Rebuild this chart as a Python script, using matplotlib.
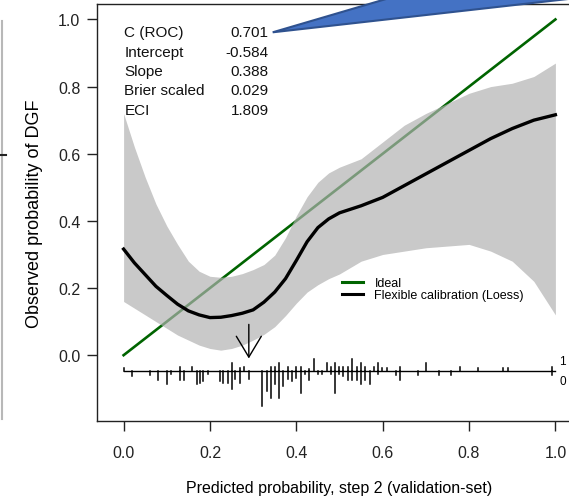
import numpy as np
import matplotlib
matplotlib.use("Agg")
import matplotlib.pyplot as plt
from matplotlib.lines import Line2D
from matplotlib.patches import Polygon

plt.rcParams["font.family"] = ["Liberation Sans", "DejaVu Sans"]

# loess calibration curve and its confidence band
x_pred = [0.00, 0.025, 0.05, 0.075, 0.10, 0.125, 0.15, 0.175, 0.20, 0.225, 0.25,
          0.275, 0.30, 0.325, 0.35, 0.375, 0.40, 0.425, 0.45, 0.475, 0.50, 0.55,
          0.60, 0.65, 0.70, 0.75, 0.80, 0.85, 0.90, 0.95, 1.00]
y_loess = [0.316, 0.275, 0.240, 0.205, 0.178, 0.152, 0.132, 0.120, 0.112, 0.113, 0.118,
           0.125, 0.135, 0.158, 0.188, 0.228, 0.282, 0.338, 0.380, 0.406, 0.424, 0.445,
           0.470, 0.505, 0.540, 0.575, 0.610, 0.645, 0.675, 0.700, 0.716]
y_upper = [0.720, 0.620, 0.530, 0.450, 0.385, 0.330, 0.280, 0.250, 0.235, 0.232, 0.235,
           0.243, 0.255, 0.270, 0.298, 0.350, 0.415, 0.472, 0.515, 0.543, 0.560, 0.585,
           0.635, 0.685, 0.720, 0.750, 0.780, 0.800, 0.810, 0.830, 0.870]
y_lower = [0.160, 0.140, 0.120, 0.100, 0.080, 0.060, 0.045, 0.030, 0.020, 0.015, 0.020,
           0.030, 0.045, 0.062, 0.085, 0.118, 0.155, 0.188, 0.210, 0.228, 0.242, 0.280,
           0.300, 0.310, 0.320, 0.325, 0.330, 0.310, 0.280, 0.220, 0.120]

# distribution of predicted probabilities (events above the line, non-events below)
rug_x = [0.000, 0.019, 0.060, 0.079, 0.100, 0.109, 0.130, 0.139, 0.158, 0.169, 0.176,
         0.183, 0.195, 0.223, 0.230, 0.241, 0.251, 0.258, 0.269, 0.278, 0.290, 0.320,
         0.332, 0.341, 0.350, 0.360, 0.369, 0.381, 0.390, 0.399, 0.411, 0.420, 0.429,
         0.441, 0.450, 0.459, 0.471, 0.480, 0.490, 0.499, 0.508, 0.520, 0.529, 0.541,
         0.550, 0.559, 0.571, 0.580, 0.589, 0.599, 0.610, 0.631, 0.640, 0.682, 0.701,
         0.731, 0.759, 0.780, 0.821, 0.879, 0.891, 0.993]
rug_n1 = [3, 0, 0, 0, 0, 0, 4, 0, 4, 0, 0,
          0, 0, 0, 0, 0, 8, 0, 3, 4, 0, 0,
          0, 4, 4, 8, 0, 4, 0, 4, 4, 0, 2,
          12, 0, 0, 8, 4, 8, 4, 4, 4, 12, 4,
          8, 4, 0, 4, 8, 3, 3, 0, 4, 0, 8,
          0, 0, 4, 3, 3, 3, 4]
rug_n0 = [0, 5, 4, 9, 13, 3, 9, 9, 0, 13, 12,
          10, 3, 10, 12, 12, 18, 8, 12, 0, 8, 35,
          20, 27, 13, 27, 15, 8, 10, 7, 22, 3, 9,
          0, 3, 3, 0, 3, 22, 3, 5, 9, 9, 9,
          13, 9, 13, 0, 3, 0, 0, 4, 9, 4, 0,
          4, 4, 0, 0, 0, 0, 4]

stat_names = ["C (ROC)", "Intercept", "Slope", "Brier scaled", "ECI"]
stat_values = ["0.701", "-0.584", "0.388", "0.029", "1.809"]

ticks = [0.0, 0.2, 0.4, 0.6, 0.8, 1.0]
tick_labels = ["0.0", "0.2", "0.4", "0.6", "0.8", "1.0"]

W, H = 569, 502
fig = plt.figure(figsize=(W / 100, H / 100), dpi=100)
ax = fig.add_axes([97 / W, 80 / H, 485 / W, 417 / H])
ax.set_xlim(-0.0616, 1.0616)
ax.set_ylim(-0.196, 1.046)

ax.plot([0, 1], [0, 1], color="darkgreen", lw=1.9, zorder=2)
ax.fill_between(x_pred, y_lower, y_upper, color=(177 / 255, 177 / 255, 177 / 255),
                alpha=177 / 255, lw=0, zorder=3)
ax.plot(x_pred, y_loess, color="black", lw=2.4, zorder=4)

# rug
base = -0.048
scale = 1 / 335
ax.plot([0, 1], [base, base], color="black", lw=1.0, zorder=4)
for xv, n1, n0 in zip(rug_x, rug_n1, rug_n0):
    if n1:
        ax.plot([xv, xv], [base, base + n1 * scale], color="black", lw=1.1, zorder=4)
    if n0:
        ax.plot([xv, xv], [base, base - n0 * scale], color="black", lw=1.1, zorder=4)
ax.text(1.009, base + 0.03, "1", fontsize=8.5, ha="left", va="center", clip_on=False)
ax.text(1.009, base - 0.03, "0", fontsize=8.5, ha="left", va="center", clip_on=False)

ax.annotate("", xy=(0.29, -0.018), xytext=(0.29, 0.10),
            arrowprops=dict(arrowstyle="->,head_length=0.75,head_width=0.45",
                            color="black", lw=1.0, mutation_scale=20), zorder=5)

# statistics
for i, (name, val) in enumerate(zip(stat_names, stat_values)):
    yy = 0.962 - i * 0.0578
    ax.text(0.002, yy, name, fontsize=11, ha="left", va="center", color="#111111")
    ax.text(0.336, yy, val, fontsize=11, ha="right", va="center", color="#111111")

handles = [Line2D([], [], color="darkgreen", lw=2.2),
           Line2D([], [], color="black", lw=2.2)]
ax.legend(handles, ["Ideal", "Flexible calibration (Loess)"], loc="upper left",
          bbox_to_anchor=(0.505, 0.345), frameon=False, fontsize=9,
          handlelength=1.7, handletextpad=0.9, labelspacing=0.0,
          borderpad=0, borderaxespad=0)

ax.set_xticks(ticks, tick_labels)
ax.set_yticks(ticks, tick_labels)
ax.tick_params(direction="out", length=7, width=1.0, labelsize=11.5, colors="#222222")
ax.tick_params(axis="x", pad=10)
ax.tick_params(axis="y", pad=5)
for s in ax.spines.values():
    s.set_linewidth(1.0)
    s.set_color("#222222")
ax.set_xlabel("Predicted probability, step 2 (validation-set)", fontsize=11.5, labelpad=15)
ax.set_ylabel("Observed probability of DGF", fontsize=13, labelpad=11)

# pieces of the surrounding screenshot: neighbouring panel edge and a callout
fig.add_artist(Line2D([2 / W, 2 / W], [1 - 22 / H, 1 - 420 / H], color="#b8b8b8",
                      lw=1.5, transform=fig.transFigure))
fig.add_artist(Line2D([0, 6 / W], [1 - 156 / H, 1 - 156 / H], color="#222222",
                      lw=1.5, transform=fig.transFigure))
tip = (272.7, 33.3)
pts = [tip, (398, -3.5), (599, -3.5)]
fig.add_artist(Polygon([(px / W, 1 - py / H) for px, py in pts], closed=True,
                       facecolor="#4472C4", edgecolor="#2F528F", lw=1.5,
                       transform=fig.transFigure, zorder=10))

fig.savefig("out.png", dpi=100)
